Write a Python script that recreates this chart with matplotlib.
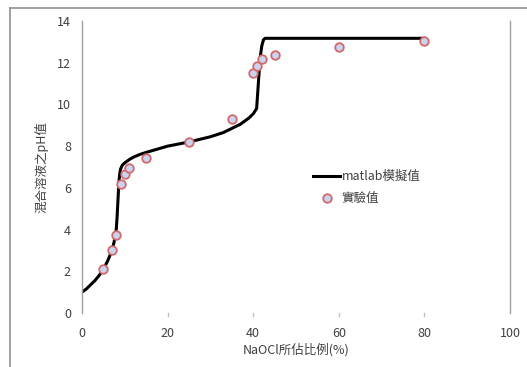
import matplotlib
matplotlib.use("Agg")
import matplotlib.pyplot as plt
from matplotlib.lines import Line2D

plt.rcParams['font.family'] = ['Noto Sans CJK TC', 'DejaVu Sans']

# Simulated (matlab) curve
sim_x = [0, 1, 2, 3, 4, 5, 6, 7, 7.5, 8, 8.2, 8.4, 8.6, 8.8, 9.0, 9.4, 10, 11, 12, 13.5, 15, 18, 20, 25, 30,
         33, 35, 37, 39, 40, 40.8, 41.2, 41.6, 42, 42.4, 42.8, 60, 80]
sim_y = [1.0, 1.15, 1.35, 1.55, 1.8, 2.1, 2.5, 3.0, 3.4, 4.0, 4.6, 5.4, 6.2, 6.65, 6.9, 7.08, 7.2, 7.35, 7.47, 7.6, 7.7, 7.88, 8.0, 8.2, 8.45,
         8.65, 8.85, 9.05, 9.35, 9.55, 9.8, 11.0, 12.2, 12.8, 13.1, 13.17, 13.17, 13.17]

# Experimental values
exp_x = [5, 7, 8, 9, 10, 11, 15, 25, 35, 40, 41, 42, 45, 60, 80]
exp_y = [2.1, 3.02, 3.72, 6.2, 6.68, 6.94, 7.45, 8.2, 9.28, 11.52, 11.84, 12.16, 12.35, 12.75, 13.05]

x_ticks = [0, 20, 40, 60, 80, 100]
y_ticks = [0, 2, 4, 6, 8, 10, 12, 14]

fig = plt.figure(figsize=(5.27, 3.67), dpi=100)
ax = fig.add_axes([82/527, 1-313/367, 428/527, 292/367])

ax.plot(sim_x, sim_y, color='black', lw=2.2, label='matlab模擬值', zorder=2,
        solid_joinstyle='round')
ax.scatter(exp_x, exp_y, s=38, facecolor='#c9d3f2', edgecolor='#d36a6a', linewidths=1.3,
           label='實驗值', zorder=3)

ax.set_xlim(0, 100)
ax.set_ylim(0, 14)
ax.set_xticks(x_ticks)
ax.set_yticks(y_ticks)
ax.tick_params(axis='both', labelsize=9, colors='#404040', length=0)
ax.tick_params(axis='x', pad=10)
ax.tick_params(axis='y', pad=8)

for s in ['top', 'bottom']:
    ax.spines[s].set_visible(False)
for s in ['left', 'right']:
    ax.spines[s].set_color('#a0a0a0')
    ax.spines[s].set_linewidth(1.0)

# faint minor tick marks along bottom
for xv in [20, 40, 60, 80]:
    ax.plot([xv, xv], [0, -0.12], color='#c0c0c0', lw=1, clip_on=False)

ax.set_xlabel('NaOCl所佔比例(%)', fontsize=9, color='#404040', labelpad=2)
ax.set_ylabel('混合溶液之pH值', fontsize=9, color='#404040', labelpad=6)

leg = ax.legend(loc='upper left', bbox_to_anchor=(0.525, 0.51), frameon=False, fontsize=9,
                handlelength=2.2, handletextpad=0.1, borderpad=0, labelspacing=0.65)
for t in leg.get_texts():
    t.set_color('#404040')

# outer frame (top and left edges visible)
fx = 9.5 / 527
fy = 1 - 7.5 / 367
fig.add_artist(Line2D([fx, 1.0], [fy, fy], transform=fig.transFigure, color='#909090', lw=1.2))
fig.add_artist(Line2D([fx, fx], [0.0, fy], transform=fig.transFigure, color='#909090', lw=1.2))

fig.savefig('out.png', dpi=100)
